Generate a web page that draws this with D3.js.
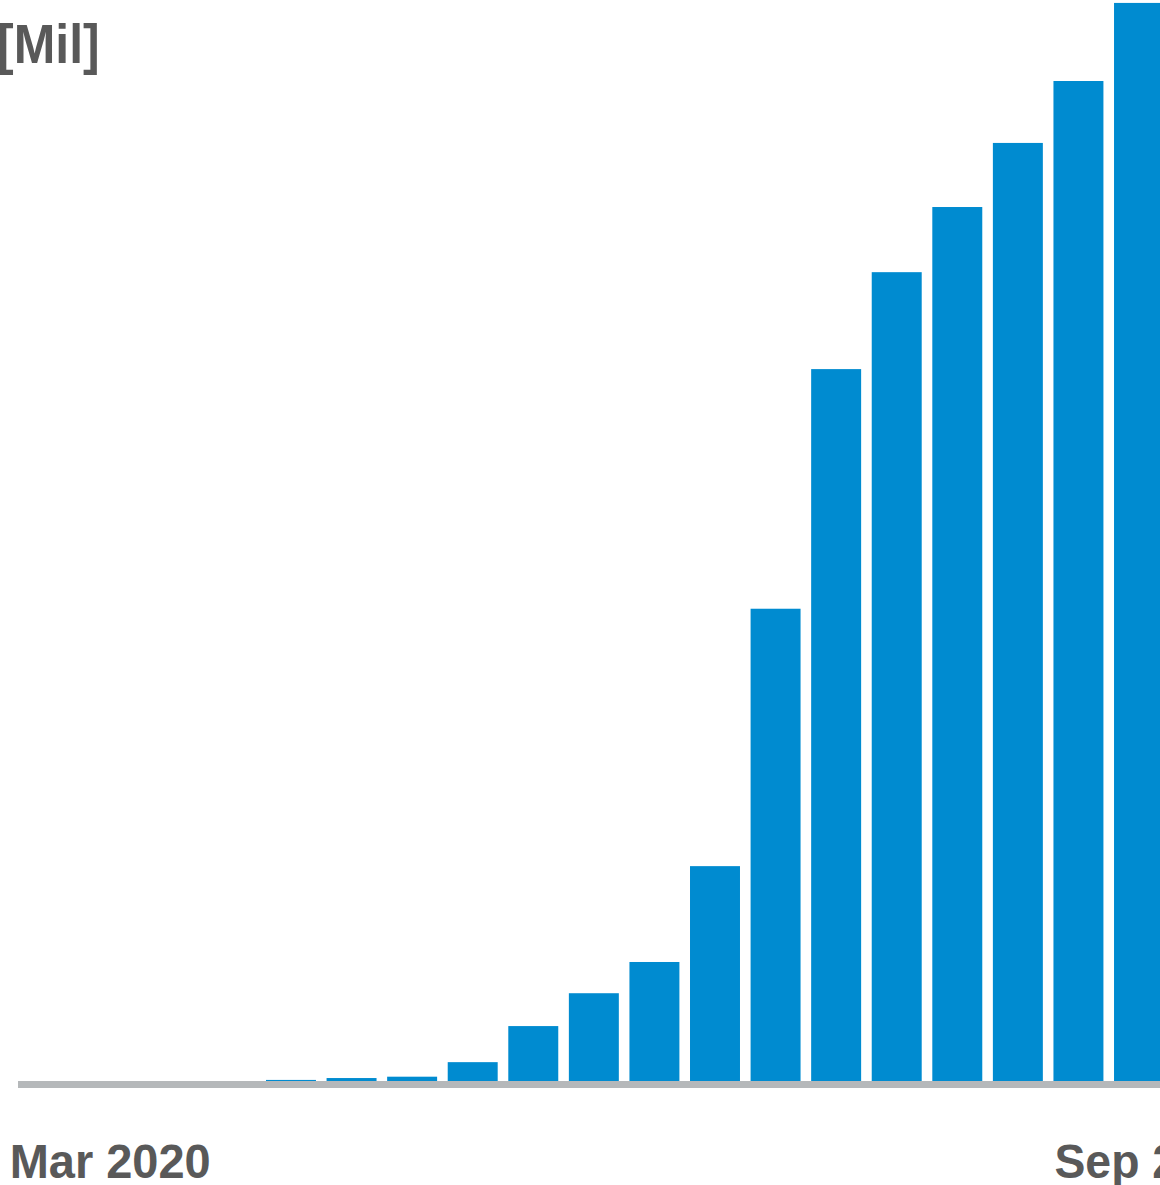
<script src="https://d3js.org/d3.v7.min.js"></script>
<style>
  body { margin: 0; background: #fff; }
  svg text { font-family: "Liberation Sans", Arial, sans-serif; font-weight: bold; fill: #595959; }
</style>
<div id="chart"></div>
<script>
// monthly values, Mil
months = ["Mar 2020","Apr 2020","May 2020","Jun 2020","Jul 2020","Aug 2020","Sep 2020","Oct 2020","Nov 2020","Dec 2020",
          "Jan 2021","Feb 2021","Mar 2021","Apr 2021","May 2021","Jun 2021","Jul 2021","Aug 2021","Sep 2021"]
values = [0, 0, 0, 0, 0.2, 0.55, 0.8, 3.5, 10.2, 16.3, 22.1, 39.9, 87.7, 132.2, 150.2, 162.3, 174.2, 185.7, 200.2]
tickLabels = ["Mar 2020", "Sep 2021"]
unitLabel = "[Mil]"

width = 1160
height = 1185

svg = d3.select('#chart')
  .append('svg')
  .attr('width', width)
  .attr('height', height)

data = months.map((m, i) => ({month: m, value: values[i]}))

x = d3.scaleBand()
  .domain(months)
  .range([23.7, 1164])
  .paddingInner(0.175)
  .paddingOuter(0)

y = d3.scaleLinear()
  .domain([0, 200])
  .range([1081, 4])

svg.selectAll('rect.bar')
  .data(data)
  .enter().append('rect')
  .attr('class', 'bar')
  .attr('x', d => x(d.month))
  .attr('width', x.bandwidth())
  .attr('y', d => y(d.value))
  .attr('height', d => y(0) - y(d.value))
  .attr('fill', '#008bd0')

// baseline
svg.append('rect')
  .attr('x', 18)
  .attr('y', y(0))
  .attr('width', width - 18)
  .attr('height', 7)
  .attr('fill', '#b5b8ba')

// month labels
svg.append('text')
  .attr('x', x(tickLabels[0]) - 14)
  .attr('y', 1178)
  .attr('font-size', 48)
  .attr('textLength', 201)
  .attr('lengthAdjust', 'spacingAndGlyphs')
  .text(tickLabels[0])

svg.append('text')
  .attr('x', x(months[17]) + 1)
  .attr('y', 1178)
  .attr('font-size', 48)
  .attr('textLength', 201)
  .attr('lengthAdjust', 'spacingAndGlyphs')
  .text(tickLabels[1])

svg.append('text')
  .attr('transform', 'translate(-3,63) scale(1,1.12)')
  .attr('font-size', 50)
  .text(unitLabel)
</script>
